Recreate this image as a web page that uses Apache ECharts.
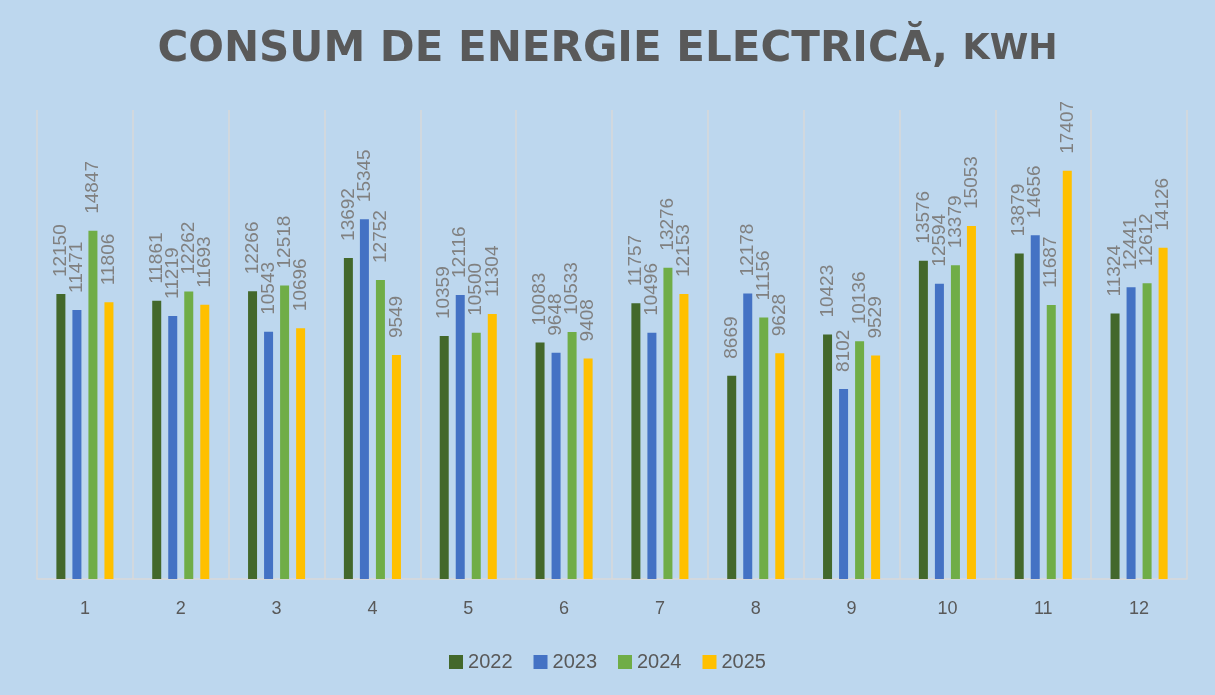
<!DOCTYPE html>
<html lang="ro">
<head>
    <meta charset="UTF-8">
    <title>Consum de energie electrica</title>
    <script src="https://cdn.jsdelivr.net/npm/echarts@6/dist/echarts.min.js"></script>
    <style>
        html, body { margin: 0; padding: 0; background: #BDD7EE; }
    </style>
</head>
<body>
    <div id="main" style="width: 1215px;height: 695px"></div>
    <script>
        // luni si consumul pe ani
        var luni = ['1', '2', '3', '4', '5', '6', '7', '8', '9', '10', '11', '12'];
        var ani = ['2022', '2023', '2024', '2025'];
        var v2022 = [12150, 11861, 12266, 13692, 10359, 10083, 11757, 8669, 10423, 13576, 13879, 11324];
        var v2023 = [11471, 11219, 10543, 15345, 12116, 9648, 10496, 12178, 8102, 12594, 14656, 12441];
        var v2024 = [14847, 12262, 12518, 12752, 10500, 10533, 13276, 11156, 10136, 13379, 11687, 12612];
        var v2025 = [11806, 11693, 10696, 9549, 11304, 9408, 12153, 9628, 9529, 15053, 17407, 14126];
        var culori = ['#43682B', '#4472C4', '#70AD47', '#FFC000'];

        var mCharts = echarts.init(document.getElementById('main'));
        var valori = [v2022, v2023, v2024, v2025];
        var series = ani.map(function (an, i) {
            return {
                name: an,
                type: 'bar',
                data: valori[i],
                barWidth: 9,
                barGap: '78%',
                itemStyle: { color: culori[i] },
                label: {
                    show: true,
                    position: 'top',
                    rotate: 90,
                    align: 'left',
                    verticalAlign: 'middle',
                    distance: 17,
                    color: '#808080',
                    fontSize: 19,
                    fontFamily: 'Liberation Sans'
                }
            };
        });

        var option = {
            backgroundColor: '#BDD7EE',
            title: {
                text: '{a|CONSUM DE ENERGIE ELECTRICĂ, }{b|KWH}',
                left: 'center',
                top: 24,
                textStyle: {
                    rich: {
                        a: { fontSize: 42, fontWeight: 'bold', color: '#595959', fontFamily: 'DejaVu Sans' },
                        b: { fontSize: 35, fontWeight: 'bold', color: '#595959', fontFamily: 'DejaVu Sans' }
                    }
                }
            },
            legend: {
                data: ani,
                top: 647,
                left: 'center',
                itemWidth: 14,
                itemHeight: 14,
                itemGap: 21,
                icon: 'rect',
                textStyle: { color: '#595959', fontSize: 20, fontFamily: 'Liberation Sans' }
            },
            grid: { left: 37, right: 28, top: 110, bottom: 116 },
            xAxis: {
                type: 'category',
                data: luni,
                axisLine: { lineStyle: { color: '#D9D9D9', width: 1.5 } },
                axisTick: { show: false },
                axisLabel: { color: '#595959', fontSize: 18, margin: 21, fontFamily: 'Liberation Sans' },
                splitLine: { show: true, lineStyle: { color: '#D9D9D9', width: 1.5 } }
            },
            yAxis: {
                type: 'value',
                min: 0,
                max: 20000,
                show: false
            },
            series: series
        };
        mCharts.setOption(option);
    </script>
</body>
</html>
